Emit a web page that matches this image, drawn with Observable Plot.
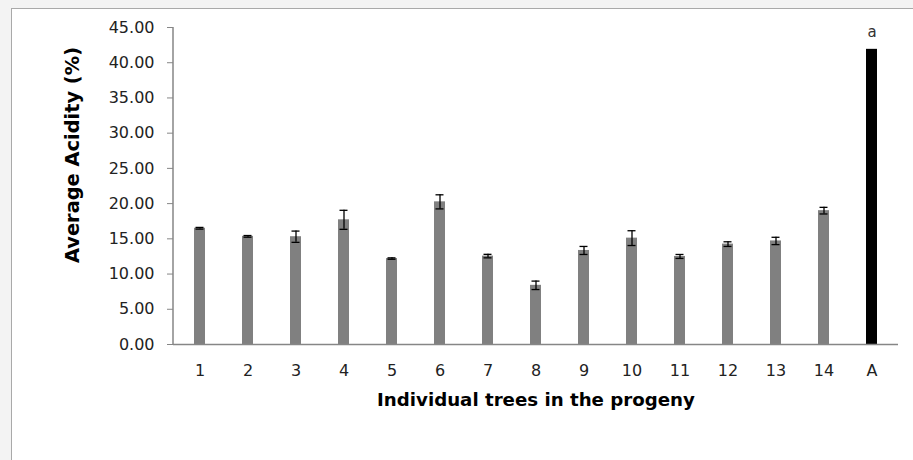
<!DOCTYPE html>
<html>
<head>
<meta charset="utf-8">
<script src="https://cdn.jsdelivr.net/npm/d3@7"></script>
<script src="https://cdn.jsdelivr.net/npm/@observablehq/plot@0.6"></script>
<style>
  html, body { margin: 0; padding: 0; background: #f3f3f3; overflow: hidden; }
  #wrap { position: relative; width: 913px; height: 460px; overflow: hidden; }
  #frame { position: absolute; left: 11px; top: 8px; width: 1000px; height: 600px; background: #fff; border-top: 1.5px solid #a9a9a9; border-left: 1.5px solid #a9a9a9; box-sizing: border-box; }
  #chart { position: absolute; left: 0; top: 0; width: 913px; height: 460px; overflow: hidden; }
  #chart svg { overflow: hidden; }
</style>
</head>
<body>
<div id="wrap"><div id="frame"></div><div id="chart"></div></div>
<script>
const trees = ["1","2","3","4","5","6","7","8","9","10","11","12","13","14","A"];
const acidity = [16.5, 15.35, 15.3, 17.7, 12.2, 20.25, 12.55, 8.4, 13.35, 15.1, 12.5, 14.25, 14.7, 19.0, 41.9];
const errors = [0.12, 0.12, 0.8, 1.35, 0.1, 1.0, 0.25, 0.6, 0.57, 1.05, 0.28, 0.33, 0.52, 0.47, 0];
const yTicks = [0, 5, 10, 15, 20, 25, 30, 35, 40, 45];
const annotations = [{tree: "A", label: "a"}];

const data = trees.map((t, i) => ({tree: t, value: acidity[i], err: errors[i], parent: t === "A"}));
const errData = data.filter(d => d.err > 0);
const annData = annotations.map(a => ({...a, value: data.find(d => d.tree === a.tree).value}));

const plot = Plot.plot({
  width: 913,
  height: 460,
  marginLeft: 173,
  marginRight: 15,
  marginTop: 27,
  marginBottom: 116,
  style: {background: "transparent", fontFamily: "DejaVu Sans, sans-serif", maxWidth: "none"},
  x: {domain: trees, paddingInner: 0.77, paddingOuter: 0.385, label: null},
  y: {domain: [0, 45], label: null},
  marks: [
    Plot.barY(data, {x: "tree", y: "value", fill: d => d.parent ? "#000000" : "#808080"}),
    Plot.ruleX(errData, {x: "tree", y1: d => d.value - d.err, y2: d => d.value + d.err, stroke: "#000", strokeWidth: 1.3}),
    Plot.tickY(errData, {x: "tree", y: d => d.value + d.err, stroke: "#000", strokeWidth: 1.3, insetLeft: 1.5, insetRight: 1.5}),
    Plot.tickY(errData, {x: "tree", y: d => d.value - d.err, stroke: "#000", strokeWidth: 1.3, insetLeft: 1.5, insetRight: 1.5}),
    Plot.ruleY([0], {stroke: "#868686", strokeWidth: 1.5}),
    Plot.axisY({ticks: yTicks, tickFormat: d => d.toFixed(2), tickSize: 6, tickPadding: 13, fontSize: 16, fill: "#222", stroke: "#868686", label: null}),
    Plot.axisX({tickSize: 0, tickPadding: 20, fontSize: 16, fill: "#222", label: null}),
    Plot.text(annData, {x: "tree", y: "value", text: "label", dy: -17, fontSize: 15, fill: "#333"}),
    Plot.text(["Individual trees in the progeny"], {frameAnchor: "bottom", dy: 61, text: d => d, fontSize: 18.2, fontWeight: "bold", fill: "#000"}),
    Plot.text(["Average Acidity (%)"], {frameAnchor: "left", dx: -101, dy: -31, rotate: -90, textAnchor: "middle", text: d => d, fontSize: 19.4, fontWeight: "bold", fill: "#000"})
  ]
});
const ys = plot.scale("y");
d3.select(plot).append("line")
  .attr("x1", 173).attr("x2", 173)
  .attr("y1", ys.apply(0)).attr("y2", ys.apply(45))
  .attr("stroke", "#868686").attr("stroke-width", 1.5);
document.getElementById("chart").appendChild(plot);
</script>
</body>
</html>
